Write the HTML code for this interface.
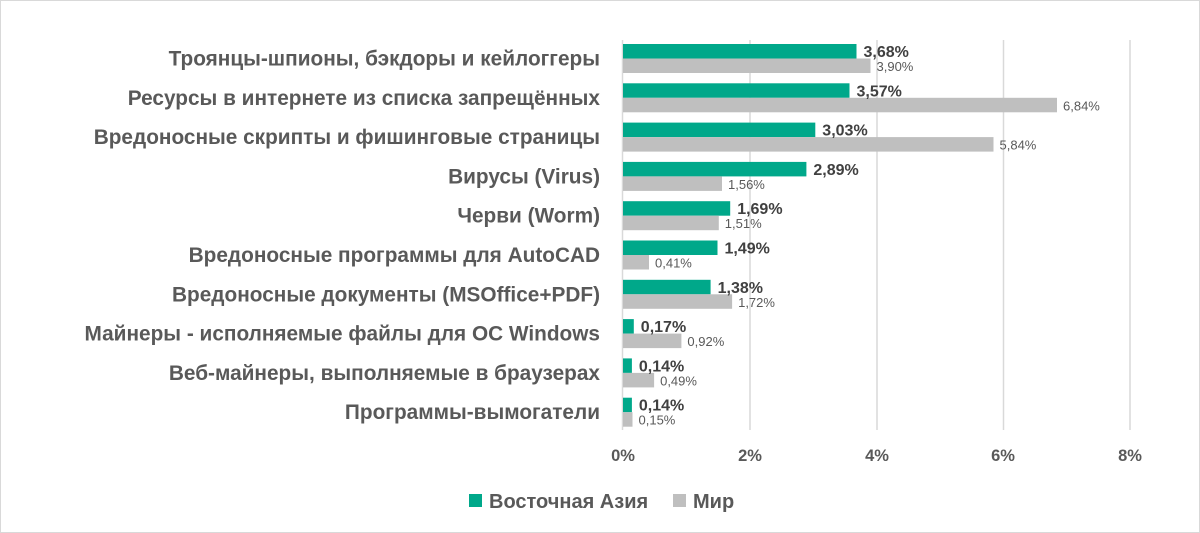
<!DOCTYPE html>
<html><head><meta charset="utf-8"><style>
html,body{margin:0;padding:0;background:#fff}
svg{display:block;font-family:"Liberation Sans","DejaVu Sans",sans-serif}
.t{fill:#00a88a}.g{fill:#bfbfbf}
.vt{font-size:16px;font-weight:bold;fill:#404040}
.vg{font-size:13px;fill:#595959}
.c{font-size:20.8px;font-weight:bold;fill:#595959;text-anchor:end}
</style></head><body>
<svg width="1200" height="533" viewBox="0 0 1200 533">
<rect x="0.5" y="0.5" width="1199" height="532" fill="#fff" stroke="#d9d9d9"/>
<g stroke="#d9d9d9" stroke-width="1.5">
<line x1="750" y1="40" x2="750" y2="430"/>
<line x1="877" y1="40" x2="877" y2="430"/>
<line x1="1003.5" y1="40" x2="1003.5" y2="430"/>
<line x1="1130" y1="40" x2="1130" y2="430"/>
<line x1="622.5" y1="40" x2="622.5" y2="430"/>
</g>

<rect class="t" x="623" y="44" width="233.5" height="14.5"/><rect class="g" x="623" y="58.5" width="247.5" height="14.5"/>
<text class="vt" x="863.5" y="57">3,68%</text><text class="vg" x="876.5" y="71">3,90%</text>
<text class="c" x="600" y="65.5">Троянцы-шпионы, бэкдоры и кейлоггеры</text>

<rect class="t" x="623" y="83.3" width="226.5" height="14.5"/><rect class="g" x="623" y="97.8" width="434" height="14.5"/>
<text class="vt" x="856.5" y="96.3">3,57%</text><text class="vg" x="1063" y="110.3">6,84%</text>
<text class="c" x="600" y="104.8">Ресурсы в интернете из списка запрещённых</text>

<rect class="t" x="623" y="122.6" width="192.3" height="14.5"/><rect class="g" x="623" y="137.1" width="370.5" height="14.5"/>
<text class="vt" x="822.3" y="135.6">3,03%</text><text class="vg" x="999.5" y="149.6">5,84%</text>
<text class="c" x="600" y="144.1">Вредоносные скрипты и фишинговые страницы</text>

<rect class="t" x="623" y="161.9" width="183.4" height="14.5"/><rect class="g" x="623" y="176.4" width="99" height="14.5"/>
<text class="vt" x="813.4" y="174.9">2,89%</text><text class="vg" x="728" y="188.9">1,56%</text>
<text class="c" x="600" y="183.4">Вирусы (Virus)</text>

<rect class="t" x="623" y="201.2" width="107.2" height="14.5"/><rect class="g" x="623" y="215.7" width="95.8" height="14.5"/>
<text class="vt" x="737.2" y="214.2">1,69%</text><text class="vg" x="724.8" y="228.2">1,51%</text>
<text class="c" x="600" y="222.7">Черви (Worm)</text>

<rect class="t" x="623" y="240.5" width="94.5" height="14.5"/><rect class="g" x="623" y="255" width="26" height="14.5"/>
<text class="vt" x="724.5" y="253.5">1,49%</text><text class="vg" x="655" y="267.5">0,41%</text>
<text class="c" x="600" y="262">Вредоносные программы для AutoCAD</text>

<rect class="t" x="623" y="279.8" width="87.6" height="14.5"/><rect class="g" x="623" y="294.3" width="109.1" height="14.5"/>
<text class="vt" x="717.6" y="292.8">1,38%</text><text class="vg" x="738.1" y="306.8">1,72%</text>
<text class="c" x="600" y="301.3">Вредоносные документы (MSOffice+PDF)</text>

<rect class="t" x="623" y="319.1" width="10.8" height="14.5"/><rect class="g" x="623" y="333.6" width="58.4" height="14.5"/>
<text class="vt" x="640.8" y="332.1">0,17%</text><text class="vg" x="687.4" y="346.1">0,92%</text>
<text class="c" x="600" y="340.6">Майнеры - исполняемые файлы для ОС Windows</text>

<rect class="t" x="623" y="358.4" width="8.9" height="14.5"/><rect class="g" x="623" y="372.9" width="31.1" height="14.5"/>
<text class="vt" x="638.9" y="371.4">0,14%</text><text class="vg" x="660.1" y="385.4">0,49%</text>
<text class="c" x="600" y="379.9">Веб-майнеры, выполняемые в браузерах</text>

<rect class="t" x="623" y="397.7" width="8.9" height="14.5"/><rect class="g" x="623" y="412.2" width="9.5" height="14.5"/>
<text class="vt" x="638.9" y="410.7">0,14%</text><text class="vg" x="638.5" y="424.7">0,15%</text>
<text class="c" x="600" y="419.2">Программы-вымогатели</text>

<g font-size="16.5" font-weight="bold" fill="#595959" text-anchor="middle">
<text x="623" y="461">0%</text><text x="750" y="461">2%</text><text x="877" y="461">4%</text><text x="1003" y="461">6%</text><text x="1130" y="461">8%</text>
</g>
<rect x="469" y="494" width="13" height="13" fill="#00a88a"/>
<text x="489" y="508" font-size="20" font-weight="bold" fill="#595959">Восточная Азия</text>
<rect x="673" y="494" width="13" height="13" fill="#bfbfbf"/>
<text x="693" y="508" font-size="20" font-weight="bold" fill="#595959">Мир</text>
</svg>
</body></html>
